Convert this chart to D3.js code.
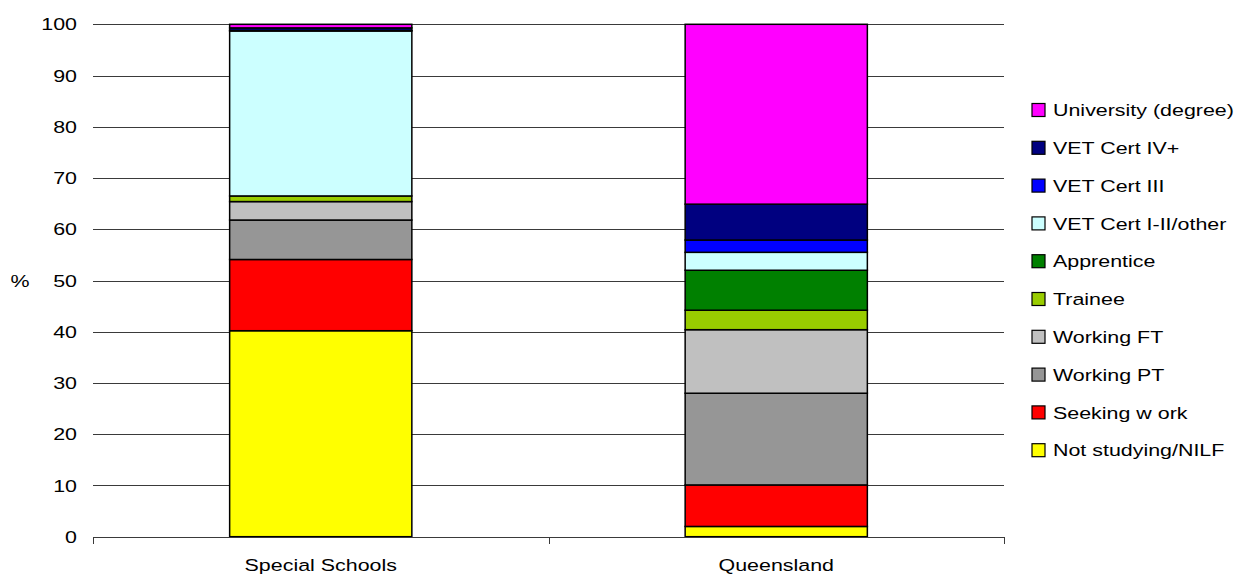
<!DOCTYPE html>
<html>
<head>
<meta charset="utf-8">
<script src="https://cdn.jsdelivr.net/npm/d3@7/dist/d3.min.js"></script>
<style>
  html, body { margin: 0; padding: 0; background: #fff; }
  svg text { font-family: "Liberation Sans", Arial, sans-serif; fill: #000; }
</style>
</head>
<body>
<svg id="chart" width="1240" height="575"></svg>
<script>
const categories = ["Special Schools", "Queensland"];
const seriesNames = ["Not studying/NILF", "Seeking w ork", "Working PT", "Working FT", "Trainee",
  "Apprentice", "VET Cert I-II/other", "VET Cert III", "VET Cert IV+", "University (degree)"];
const seriesColors = ["#ffff00", "#ff0000", "#969696", "#c0c0c0", "#99cc00",
  "#008000", "#ccffff", "#0000ff", "#000080", "#ff00ff"];
const specialSchools = [40.2, 13.9, 7.7, 3.6, 1.1, 0, 32.2, 0.1, 0.5, 0.7];
const queensland = [2.0, 8.1, 17.9, 12.4, 3.8, 7.8, 3.5, 2.4, 7.0, 35.1];
const yTicks = [0, 10, 20, 30, 40, 50, 60, 70, 80, 90, 100];
const yLabel = "%";

const values = [specialSchools, queensland];
const table = categories.map((c, i) => {
  const row = { category: c };
  seriesNames.forEach((s, j) => row[s] = values[i][j]);
  return row;
});
const stacked = d3.stack().keys(seriesNames)(table);

const svg = d3.select("#chart");
const pLeft = 93, pRight = 1004, pTop = 24.3, pBottom = 536.7;
const SX = 1.26, FS = 17;

const x = d3.scaleBand().domain(categories).range([pLeft, pRight]).paddingInner(0).paddingOuter(0);
const y = d3.scaleLinear().domain([0, 100]).range([pBottom, pTop]);

function label(parent, tx, ty, txt, anchor, dy) {
  const gg = parent.append("g").attr("transform", `translate(${tx},${ty}) scale(${SX},1)`);
  gg.append("text").attr("x", 0).attr("y", 0).attr("dy", dy || 0)
    .attr("text-anchor", anchor).attr("font-size", FS).text(txt);
  return gg;
}

// gridlines
svg.append("g").selectAll("line").data(yTicks.filter(t => t > 0)).join("line")
  .attr("x1", pLeft).attr("x2", pRight)
  .attr("y1", d => Math.round(y(d)) + 0.5).attr("y2", d => Math.round(y(d)) + 0.5)
  .attr("stroke", "#3a3a3a").attr("stroke-width", 1);

// y tick labels
const yl = svg.append("g");
yTicks.forEach(t => label(yl, 77, y(t), t, "end", "0.36em"));
label(svg, 20, y(50), yLabel, "middle", "0.36em");

// bars
const barW = x.bandwidth() * 0.4;
const g = svg.append("g");
stacked.forEach((layer, si) => {
  g.selectAll(null).data(layer).join("rect")
    .attr("x", d => x(d.data.category) + (x.bandwidth() - barW) / 2)
    .attr("y", d => y(d[1]))
    .attr("width", barW)
    .attr("height", d => Math.max(0, y(d[0]) - y(d[1])))
    .attr("fill", seriesColors[si])
    .attr("stroke", "#000").attr("stroke-width", 1.5);
});

// x axis
const ax = svg.append("g");
ax.append("line").attr("x1", pLeft).attr("x2", pRight)
  .attr("y1", Math.round(pBottom) + 0.5).attr("y2", Math.round(pBottom) + 0.5)
  .attr("stroke", "#3a3a3a").attr("stroke-width", 1);
const tickXs = [pLeft].concat(categories.map(c => x(c) + x.bandwidth()));
ax.selectAll("line.tick").data(tickXs).join("line").attr("class", "tick")
  .attr("x1", d => Math.round(d) + 0.5).attr("x2", d => Math.round(d) + 0.5)
  .attr("y1", Math.round(pBottom)).attr("y2", Math.round(pBottom) + 7)
  .attr("stroke", "#3a3a3a").attr("stroke-width", 1);
categories.forEach(c => label(ax, x(c) + x.bandwidth() / 2, 571, c, "middle"));

// legend (reverse order)
const legendItems = seriesNames.map((s, i) => ({ name: s, color: seriesColors[i] })).reverse();
const lg = svg.append("g");
legendItems.forEach((d, i) => {
  const ry = 110 + i * 37.8;
  lg.append("rect").attr("x", 1032).attr("y", ry - 6.5).attr("width", 13).attr("height", 13)
    .attr("fill", d.color).attr("stroke", "#000").attr("stroke-width", 1.2);
  label(lg, 1053, ry, d.name, "start", "0.36em");
});
</script>
</body>
</html>
